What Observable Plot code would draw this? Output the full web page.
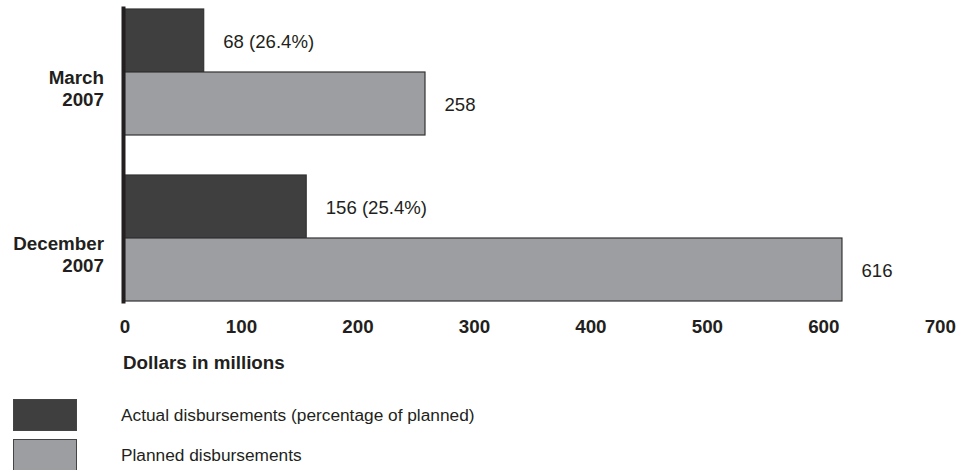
<!DOCTYPE html>
<html>
<head>
<meta charset="utf-8">
<script src="https://cdn.jsdelivr.net/npm/d3@7"></script>
<script src="https://cdn.jsdelivr.net/npm/@observablehq/plot@0.6"></script>
<style>
  html, body { margin: 0; padding: 0; background: #fff; }
  body { width: 957px; height: 470px; overflow: hidden; font-family: "Liberation Sans", Arial, sans-serif; color: #231f20; }
  #legend { margin-top: 19px; }
  .row { display: flex; align-items: center; height: 32px; margin-bottom: 8px; margin-left: 13px; }
  .sw { width: 62px; height: 30px; box-sizing: content-box; border: 1px solid #444; }
  .lab { margin-left: 44px; font-size: 17.3px; }
</style>
</head>
<body>
<div id="chart"></div>
<div id="legend"></div>
<script>
// Reporting periods and disbursement amounts (dollars in millions)
const periods = ["March\n2007", "December\n2007"];
const seriesNames = ["Actual", "Planned"];
const seriesLabels = ["Actual disbursements (percentage of planned)", "Planned disbursements"];
const seriesColors = ["#3f3f3f", "#9d9ea2"];
const actual = [68, 156];
const planned = [258, 616];
const actualPct = [26.4, 25.4];
const xTicks = [0, 100, 200, 300, 400, 500, 600, 700];
const xTitle = "Dollars in millions";

const rows = periods.flatMap((p, i) => [
  {period: p, series: "Actual", value: actual[i], label: `${actual[i]} (${actualPct[i]}%)`},
  {period: p, series: "Planned", value: planned[i], label: `${planned[i]}`}
]);

const chart = Plot.plot({
  width: 957,
  height: 380,
  marginLeft: 124.5,
  marginRight: 17.2,
  marginTop: 8,
  marginBottom: 78,
  style: {fontFamily: "'Liberation Sans', Arial, sans-serif", fontSize: "18px", color: "#231f20", background: "#fff"},
  x: {domain: [0, 700]},
  y: {domain: seriesNames, axis: null, paddingInner: 0, paddingOuter: 0},
  fy: {domain: periods, paddingInner: 0.2335, paddingOuter: 0, label: null},
  color: {domain: seriesNames, range: seriesColors},
  marks: [
    Plot.barX(rows, {x: "value", y: "series", fy: "period", fill: "series", stroke: "#333", strokeWidth: 1.2}),
    Plot.text(rows, {x: "value", y: "series", fy: "period", text: "label", textAnchor: "start", dx: 19, dy: 1, fontSize: 18.6, fill: "#231f20"}),
    Plot.axisX({ticks: xTicks, tickSize: 0, tickPadding: 18, fontWeight: "bold", fontSize: 18.8, label: null}),
    // axis title under the tick labels, in the bottom period's panel
    Plot.text([xTitle], {fy: () => periods[periods.length - 1], frameAnchor: "bottom-left", textAnchor: "start",
      dy: 67, dx: -2, fontWeight: "bold", fontSize: 18.8, fill: "#231f20"}),
    Plot.axisFy({anchor: "left", tickSize: 0, tickPadding: 21, fontWeight: "bold", fontSize: 18.8, lineHeight: 1.15, dy: 16, label: null}),
    // value axis line spanning both periods
    Plot.frame({anchor: "left", facet: "super", stroke: "#231f20", strokeWidth: 4, dx: -1.5})
  ]
});
document.getElementById("chart").append(chart);

// Legend rows, one per series
const legend = d3.select("#legend");
seriesNames.forEach((s, i) => {
  const row = legend.append("div").attr("class", "row");
  row.append("div").attr("class", "sw").style("background", seriesColors[i]);
  row.append("div").attr("class", "lab").text(seriesLabels[i]);
});
</script>
</body>
</html>
